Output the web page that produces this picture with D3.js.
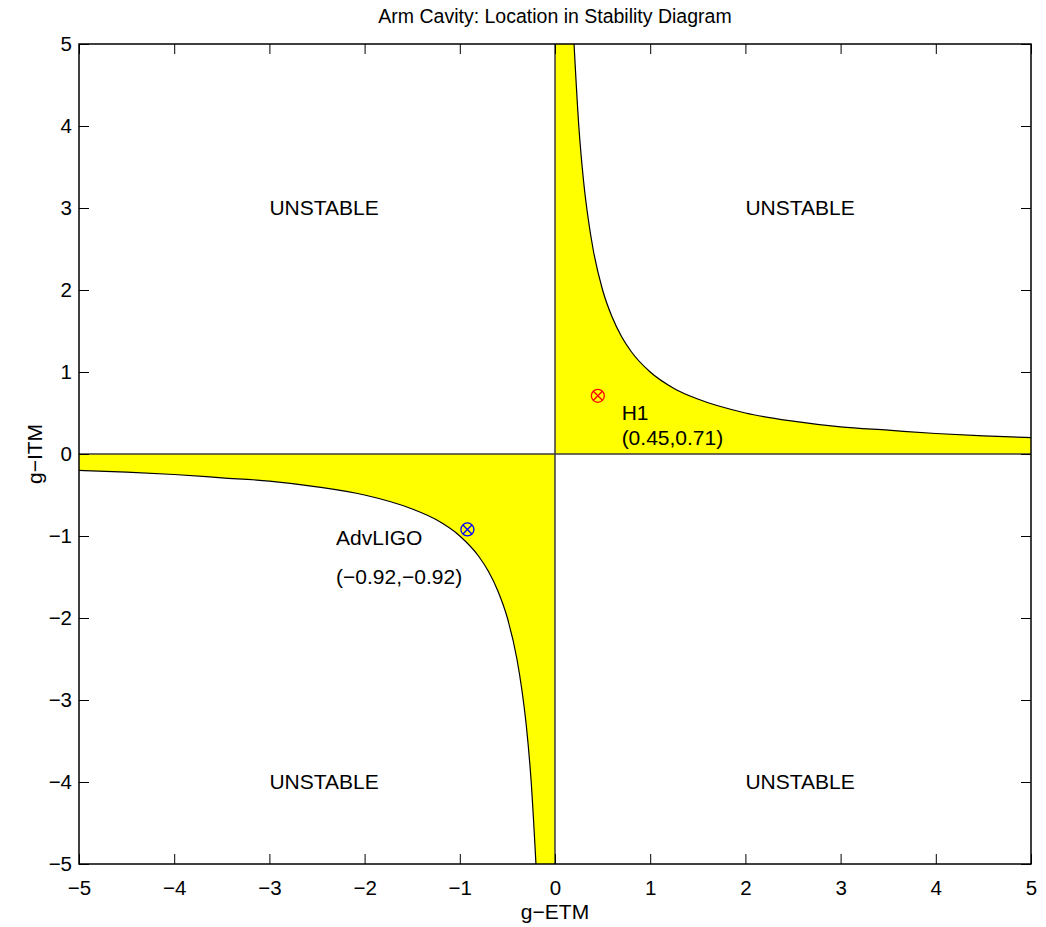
<!DOCTYPE html>
<html>
<head>
<meta charset="utf-8">
<script src="https://cdn.jsdelivr.net/npm/d3@7"></script>
<style>
  body { margin: 0; background: #fff; }
  text { font-family: "Liberation Sans", Arial, Helvetica, sans-serif; fill: #000; }
</style>
</head>
<body>
<div id="chart"></div>
<script>
// stability boundary g_ETM * g_ITM = 1 (first quadrant branch)
const boundaryG1 = [0.2, 0.25, 0.3, 0.35, 0.4, 0.5, 0.6, 0.7, 0.8, 1.0, 1.25, 1.5, 2.0, 2.5, 3.0, 3.5, 4.0, 4.5, 5.0];
const boundaryG2 = [5.0, 4.0, 3.33, 2.86, 2.5, 2.0, 1.67, 1.43, 1.25, 1.0, 0.8, 0.67, 0.5, 0.4, 0.33, 0.29, 0.25, 0.22, 0.2];

// operating points
const pointNames = ['H1', 'AdvLIGO'];
const pointG1 = [0.45, -0.92];
const pointG2 = [0.71, -0.92];
const pointColors = ['#ff0000', '#0000ff'];
const pointLabels = [['H1', '(0.45,0.71)'], ['AdvLIGO', '(\u22120.92,\u22120.92)']];
const labelX = [0.7, -2.3];
const labelY = [[0.5, 0.2], [-1.02, -1.5]];

// region labels
const regionText = ['UNSTABLE', 'UNSTABLE', 'UNSTABLE', 'UNSTABLE'];
const regionX = [-3, 2, -3, 2];
const regionY = [3, 3, -4, -4];

const ticks = [-5, -4, -3, -2, -1, 0, 1, 2, 3, 4, 5];

// DIMENSIONS
const width = 1046, height = 927;
const margin = {left: 79, right: 15, top: 44, bottom: 63};

const svg = d3.select('#chart').append('svg')
  .attr('width', width)
  .attr('height', height);

const x = d3.scaleLinear().domain([-5, 5]).range([margin.left, width - margin.right]);
const y = d3.scaleLinear().domain([-5, 5]).range([height - margin.bottom, margin.top]);

const fmt = d => d < 0 ? '\u2212' + Math.abs(d) : '' + d;

// FILLED STABLE REGIONS
const branch = boundaryG1.map((g, i) => [g, boundaryG2[i]]);
const curve = d3.line().x(d => x(d[0])).y(d => y(d[1])).curve(d3.curveMonotoneX);
const straight = d3.line().x(d => x(d[0])).y(d => y(d[1]));

// quadrant I: curve path, then close through (5,0),(0,0),(0,5)
const q1d = curve(branch) + straight([[5, 0.2], [5, 0], [0, 0], [0, 5], [0.2, 5]]).replace('M', 'L') + 'Z';
const neg = branch.map(p => [-p[0], -p[1]]);
const q3d = curve(neg) + straight([[-5, -0.2], [-5, 0], [0, 0], [0, -5], [-0.2, -5]]).replace('M', 'L') + 'Z';

[q1d, q3d].forEach(d => {
  svg.append('path')
    .attr('d', d)
    .style('fill', '#ffff00')
    .style('stroke', 'none');
});

// boundary curves
svg.append('path').attr('d', curve(branch))
  .style('fill', 'none').style('stroke', '#000').style('stroke-width', 1.2);
svg.append('path').attr('d', curve(neg))
  .style('fill', 'none').style('stroke', '#000').style('stroke-width', 1.2);

// zero lines
svg.append('line')
  .attr('x1', x(-5)).attr('x2', x(5)).attr('y1', y(0)).attr('y2', y(0))
  .style('stroke', '#3a3a3a').style('stroke-width', 1.5);
svg.append('line')
  .attr('x1', x(0)).attr('x2', x(0)).attr('y1', y(-5)).attr('y2', y(5))
  .style('stroke', '#3a3a3a').style('stroke-width', 1.5);

// AXES (matlab style box, ticks inward)
const tickLen = 10;
const axStyle = g => {
  g.select('.domain').remove();
  g.selectAll('.tick line').style('stroke', '#000');
  g.selectAll('.tick text').style('font-size', '20.5px')
    .style('font-family', '"Liberation Sans", Arial, sans-serif');
};
svg.append('g').attr('transform', `translate(0,${y(-5)})`)
  .call(d3.axisBottom(x).tickValues(ticks).tickFormat(fmt).tickSizeInner(-tickLen).tickSizeOuter(0).tickPadding(16))
  .call(axStyle);
svg.append('g').attr('transform', `translate(0,${y(5)})`)
  .call(d3.axisTop(x).tickValues(ticks).tickFormat('').tickSizeInner(-tickLen).tickSizeOuter(0))
  .call(axStyle);
svg.append('g').attr('transform', `translate(${x(-5)},0)`)
  .call(d3.axisLeft(y).tickValues(ticks).tickFormat(fmt).tickSizeInner(-tickLen).tickSizeOuter(0).tickPadding(7))
  .call(axStyle);
svg.append('g').attr('transform', `translate(${x(5)},0)`)
  .call(d3.axisRight(y).tickValues(ticks).tickFormat('').tickSizeInner(-tickLen).tickSizeOuter(0))
  .call(axStyle);

svg.append('rect')
  .attr('x', x(-5)).attr('y', y(5))
  .attr('width', x(5) - x(-5)).attr('height', y(-5) - y(5))
  .style('fill', 'none').style('stroke', '#000').style('stroke-width', 1.5);

// REGION LABELS
regionText.forEach((t, i) => {
  svg.append('text')
    .attr('x', x(regionX[i])).attr('y', y(regionY[i]))
    .attr('dy', '0.35em')
    .style('font-size', '21px')
    .text(t);
});

// POINTS
pointNames.forEach((n, i) => {
  const g = svg.append('g')
    .attr('transform', `translate(${x(pointG1[i])},${y(pointG2[i])})`)
    .style('stroke', pointColors[i]).style('stroke-width', 1.3).style('fill', 'none');
  g.append('circle').attr('r', 6.5);
  g.append('line').attr('x1', -4.5).attr('y1', -4.5).attr('x2', 4.5).attr('y2', 4.5);
  g.append('line').attr('x1', -4.5).attr('y1', 4.5).attr('x2', 4.5).attr('y2', -4.5);

  pointLabels[i].forEach((t, j) => {
    svg.append('text')
      .attr('x', x(labelX[i])).attr('y', y(labelY[i][j]))
      .attr('dy', '0.35em')
      .style('font-size', '21px')
      .text(t);
  });
});

// TITLE + AXIS LABELS
svg.append('text')
  .attr('x', (x(-5) + x(5)) / 2).attr('y', 23)
  .attr('text-anchor', 'middle')
  .style('font-size', '19.5px')
  .text('Arm Cavity: Location in Stability Diagram');

svg.append('text')
  .attr('x', (x(-5) + x(5)) / 2).attr('y', 919)
  .attr('text-anchor', 'middle')
  .style('font-size', '21px')
  .text('g\u2212ETM');

svg.append('text')
  .attr('transform', `translate(42,${y(0)}) rotate(-90)`)
  .attr('text-anchor', 'middle')
  .style('font-size', '21px')
  .text('g\u2212ITM');
</script>
</body>
</html>
